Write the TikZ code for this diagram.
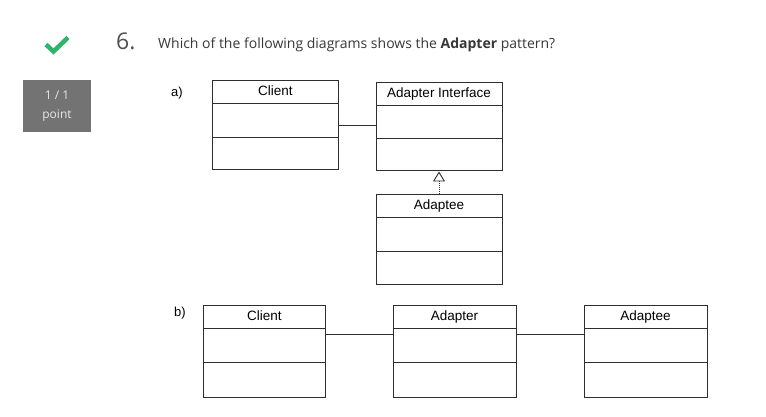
\documentclass[tikz,border=0pt]{standalone}
\usepackage{fontspec}
\setmainfont{Liberation Sans}
\newfontfamily\osans{Open Sans}
\usetikzlibrary{calc,arrows.meta}
\definecolor{okgreen}{HTML}{2FB56A}
\definecolor{badgegray}{HTML}{737373}
\definecolor{badgetext}{HTML}{E8E8E8}
\definecolor{qtext}{HTML}{383838}
\definecolor{numtext}{HTML}{505050}
\definecolor{umlline}{HTML}{2E2E2E}
\begin{document}
\begin{tikzpicture}[x=1pt,y=-1pt,
  classbox/.style={draw=umlline, line width=1pt, inner sep=0pt, fill=white},
  sepline/.style={draw=umlline, line width=0.9pt},
  classtitle/.style={font=\fontsize{13.5}{15}\selectfont, inner sep=0pt, text=black, anchor=base},
  optlabel/.style={font=\fontsize{13}{15}\selectfont, inner sep=0pt, text=black},
  assoc/.style={draw=umlline, line width=0.9pt},
  realize/.style={draw=umlline, line width=0.9pt, densely dotted,
    -{Triangle[open, length=10pt, width=12pt, line width=0.9pt]}},
]
\useasboundingbox[fill=white] (0,0) rectangle (766,417);

% check mark icon
\draw[okgreen, line width=4.5pt, line join=miter] (46,44.5) -- (53.5,51.5) -- (68,37.5);

% question number and text
\node[font=\osans\fontsize{23}{26}\selectfont, text=numtext, anchor=base west, inner sep=0pt] (qnum) at (116,50) {6.};
\node[font=\osans\fontsize{14}{17}\selectfont, text=qtext, anchor=base west, inner sep=0pt] (qtxt) at (158,48.3)
  {Which of the following diagrams shows the \textbf{Adapter} pattern?};

% score badge
\node[fill=badgegray, minimum width=68pt, minimum height=52pt, inner sep=0pt, align=center,
  text=badgetext, font=\osans\fontsize{12}{19}\selectfont] (badge) at (57,106) {1 / 1\\point};

% option labels
\node[optlabel] (la) at (177,93) {a)};
\node[optlabel] (lb) at (180,313) {b)};

% option a
\node[classbox, minimum width=126pt, minimum height=89pt] (ca) at (275.5,125.5) {};
\node[classbox, minimum width=126pt, minimum height=88pt] (ai) at (439,127) {};
\node[classbox, minimum width=126pt, minimum height=90pt] (ad) at (439,239) {};

% option b
\node[classbox, minimum width=122pt, minimum height=92pt] (cb) at (264.5,351) {};
\node[classbox, minimum width=123pt, minimum height=92pt] (ab) at (454.5,351) {};
\node[classbox, minimum width=123pt, minimum height=92pt] (db) at (645.5,351) {};

% compartments
\foreach \n/\a/\b in {ca/23/57, ai/23/56, ad/24/58, cb/24/58, ab/24/58, db/24/58}{
  \draw[sepline] ($(\n.north west)+(0,\a)$) -- ($(\n.north east)+(0,\a)$);
  \draw[sepline] ($(\n.north west)+(0,\b)$) -- ($(\n.north east)+(0,\b)$);
}

% class names
\node[classtitle] (ca-t) at ($(ca.north)+(0,15.5)$) {Client};
\node[classtitle] (ai-t) at ($(ai.north)+(0,15)$) {Adapter Interface};
\node[classtitle] (ad-t) at ($(ad.north)+(0,16)$) {Adaptee};
\node[classtitle] (cb-t) at ($(cb.north)+(0,15.5)$) {Client};
\node[classtitle] (ab-t) at ($(ab.north)+(0,15.5)$) {Adapter};
\node[classtitle] (db-t) at ($(db.north)+(0,15.5)$) {Adaptee};

% connectors option a
\draw[assoc] (ca.east) -- (ca.east -| ai.west);
\draw[realize] (ad.north) -- (ai.south);

% connectors option b
\coordinate (c1) at ($(cb.north east)+(0,30)$);
\coordinate (c2) at ($(ab.north east)+(0,30)$);
\draw[assoc] (c1) -- (c1 -| ab.west);
\draw[assoc] (c2) -- (c2 -| db.west);
\end{tikzpicture}
\end{document}
